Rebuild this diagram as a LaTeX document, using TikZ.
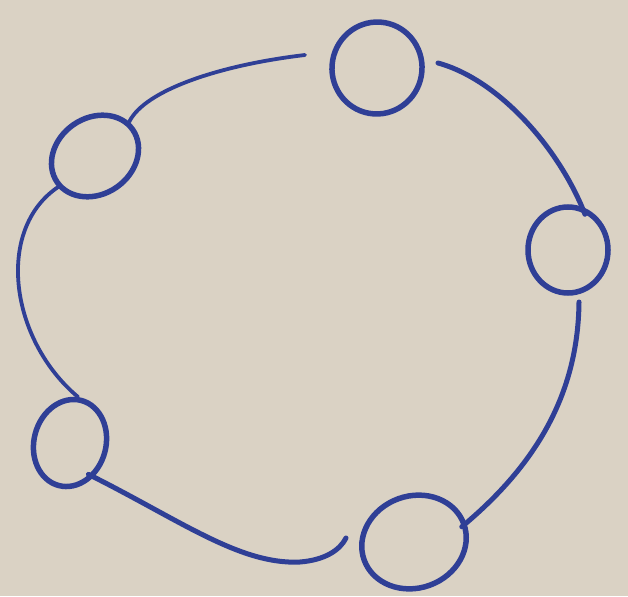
\documentclass[tikz,border=0pt]{standalone}
\usetikzlibrary{shapes.geometric}
\definecolor{rgPaper}{HTML}{DAD2C4}
\definecolor{rgInk}{HTML}{2F3F96}
\tikzset{
  ring/.style={
    ellipse, draw=rgInk, line width=5.5pt, inner sep=0pt
  },
  link/.style={draw=rgInk, line width=5pt, line cap=round},
  thin link/.style={link, line width=3.8pt},
}

\begin{document}
\begin{tikzpicture}[x=1pt, y=-1pt]
  % paper
  \fill[rgPaper] (0,0) rectangle (628,596);
  \useasboundingbox (0,0) rectangle (628,596);

  % the five rings
  \node[ring, minimum width=90pt, minimum height=92pt, rotate=-10] (top) at (377,68) {};
  \node[ring, minimum width=92pt, minimum height=76pt, rotate=35] (ul) at (95,156) {};
  \node[ring, minimum width=80pt, minimum height=86pt] (right) at (568,250) {};
  \node[ring, minimum width=72pt, minimum height=88pt, rotate=-15] (ll) at (70,443) {};
  \node[ring, minimum width=106pt, minimum height=92pt, rotate=20] (bot) at (414,542) {};

  % loose pen ends
  \coordinate (topR) at (438,63);
  \coordinate (topL) at (305,55);
  \coordinate (rightB) at (579,302);
  \coordinate (botL) at (346,538);

  % links round the ring
  \draw[link, shorten >=-8pt] (topR) .. controls (500,80) and (560,150) .. (right.72);
  \draw[link, shorten >=-6pt] (rightB) .. controls (578,400) and (530,470) .. (bot.0);
  \draw[link, shorten <=-6pt] (ll.-40) .. controls (180,520) and (240,565) .. (300,562)
    .. controls (325,560) and (340,550) .. (botL);
  \draw[thin link] (ll.95) .. controls (10,340) and (-5,230) .. (ul.185);
  \draw[thin link] (ul.10) .. controls (145,90) and (220,65) .. (topL);
\end{tikzpicture}
\end{document}
